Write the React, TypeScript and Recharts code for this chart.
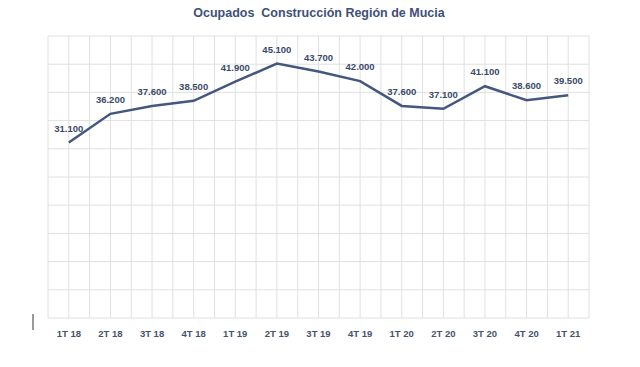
import React from "react";
import { LineChart, Line, XAxis, YAxis, CartesianGrid, LabelList } from "recharts";

const categories = ["1T 18", "2T 18", "3T 18", "4T 18", "1T 19", "2T 19", "3T 19", "4T 19", "1T 20", "2T 20", "3T 20", "4T 20", "1T 21"];
const ocupados = [31100, 36200, 37600, 38500, 41900, 45100, 43700, 42000, 37600, 37100, 41100, 38600, 39500];
const yTicks = [0, 5000, 10000, 15000, 20000, 25000, 30000, 35000, 40000, 45000, 50000];

const data = categories.map((c, i) => ({ cat: c, value: ocupados[i] }));

const fmt = (v: any) => {
  const n = Number(v);
  const th = Math.floor(n / 1000);
  const rest = String(n % 1000).padStart(3, "0");
  return `${th}.${rest}`;
};

const FONT = "'Liberation Sans', Arial, sans-serif";

export default function App() {
  return (
    <div style={{ position: "absolute", left: 0, top: 0, width: 640, height: 367, background: "#fff" }}>
      <div
        style={{
          position: "absolute",
          left: 0,
          top: 5,
          width: 638,
          textAlign: "center",
          fontFamily: FONT,
          fontWeight: "bold",
          fontSize: 12.5,
          lineHeight: "16px",
          color: "#3E5078",
          whiteSpace: "pre",
        }}
      >
        {"Ocupados  Construcción Región de Mucia"}
      </div>
      <div style={{ position: "absolute", left: 32, top: 314, width: 2, height: 16, background: "#9a9a9a" }} />
      <LineChart
        width={640}
        height={367}
        data={data}
        margin={{ top: 36, right: 51, left: 48, bottom: 19 }}
      >
        <CartesianGrid
          stroke="#e0e0e0"
          strokeWidth={1}
          verticalCoordinatesGenerator={({ offset }: any) =>
            Array.from({ length: 27 }, (_, i) => offset.left + (i * offset.width) / 26)
          }
        />
        <XAxis
          dataKey="cat"
          scale="band"
          axisLine={false}
          tickLine={false}
          tickSize={0}
          tickMargin={12}
          height={30}
          interval={0}
          tick={{ fontSize: 9.5, fontWeight: "bold", fill: "#44546A", fontFamily: FONT }}
        />
        <YAxis hide domain={[0, 50000]} ticks={yTicks} />
        <Line
          type="linear"
          dataKey="value"
          stroke="#44577F"
          strokeWidth={2.5}
          dot={false}
          isAnimationActive={false}
        >
          <LabelList
            dataKey="value"
            position="top"
            offset={11}
            formatter={fmt}
            style={{ fontSize: 9.5, fontWeight: "bold", fill: "#3A4A6B", fontFamily: FONT }}
          />
        </Line>
      </LineChart>
    </div>
  );
}
